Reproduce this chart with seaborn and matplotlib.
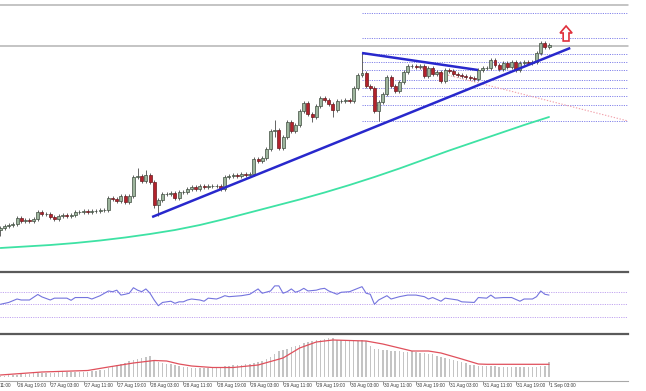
import numpy as np
import pandas as pd
import matplotlib
matplotlib.use("Agg")
import matplotlib.pyplot as plt
import matplotlib.transforms as mtransforms
from matplotlib.patches import Polygon
import seaborn as sns

# ---------------- data (hourly candles, 26 Aug 15:00 -> 1 Sep 03:00) ----------------
first_open = 40
closes = [42, 44, 45, 46, 52, 49, 50, 49, 51, 58,
          56, 56, 53, 51, 54, 55, 54, 55, 58, 58,
          59, 58, 59, 59, 60, 60, 72, 71, 69, 74,
          68, 74, 93, 94, 89, 95, 88, 65, 70, 76,
          76, 77, 72, 78, 78, 81, 83, 81, 84, 83,
          84, 84, 84, 81, 93, 94, 95, 94, 96, 95,
          96, 111, 109, 112, 121, 139, 140, 122, 133, 148,
          139, 145, 159, 167, 156, 153, 164, 172, 170, 166,
          160, 169, 169, 170, 169, 182, 195, 197, 184, 182,
          159, 168, 176, 193, 184, 179, 188, 198, 204, 204,
          203, 204, 194, 202, 196, 198, 189, 200, 199, 196,
          195, 194, 193, 192, 191, 200, 202, 202, 210, 205,
          201, 207, 203, 208, 200, 207, 208, 207, 208, 217,
          227, 223, 225]
highs = [44, 46, 47, 48, 54, 54, 52, 52, 53, 60,
         60, 58, 58, 55, 56, 57, 57, 57, 60, 60,
         61, 61, 61, 61, 62, 62, 74, 74, 73, 76,
         76, 76, 95, 102, 96, 100, 97, 90, 72, 78,
         78, 79, 79, 80, 80, 83, 85, 85, 86, 86,
         86, 86, 86, 86, 95, 96, 97, 97, 98, 98,
         98, 113, 113, 114, 123, 141, 150, 142, 135, 150,
         150, 147, 161, 169, 169, 158, 166, 174, 174, 172,
         168, 171, 171, 172, 172, 184, 197, 217, 199, 186,
         184, 170, 178, 195, 195, 186, 190, 200, 206, 206,
         206, 206, 206, 204, 204, 200, 200, 202, 202, 201,
         198, 197, 196, 195, 194, 202, 204, 204, 212, 212,
         207, 209, 209, 210, 210, 209, 210, 210, 210, 219,
         229, 229, 227]
lows = [34, 40, 42, 43, 44, 47, 47, 47, 47, 49,
        54, 54, 51, 49, 49, 52, 52, 52, 53, 56,
        56, 56, 56, 57, 57, 58, 58, 69, 67, 67,
        66, 66, 72, 91, 87, 87, 86, 62, 54, 68,
        74, 74, 70, 70, 76, 76, 79, 79, 79, 81,
        81, 82, 82, 79, 79, 91, 92, 92, 92, 93,
        93, 94, 107, 107, 110, 119, 133, 120, 120, 131,
        137, 137, 143, 157, 154, 148, 151, 162, 168, 164,
        153, 158, 167, 167, 167, 167, 180, 193, 182, 180,
        157, 149, 166, 174, 182, 177, 177, 186, 196, 202,
        201, 201, 192, 192, 194, 194, 187, 187, 197, 194,
        193, 192, 191, 190, 189, 189, 198, 200, 200, 203,
        199, 199, 201, 201, 198, 198, 205, 205, 205, 206,
        215, 221, 221]

ma_hours = [0, 6, 12, 18, 24, 30, 36, 42, 48, 54, 60, 66, 72, 78, 84, 90, 96, 102,
            108, 114, 120, 126, 132]
ma_values = [22, 23.5, 25, 27, 29.5, 32.5, 36, 40, 45, 51, 57.5, 64, 70.5, 77.5, 85, 93,
             101.5, 110.5, 119.5, 128, 136.5, 145, 153]

rsi_hours = [0, 2, 4, 5, 7, 9, 10, 12, 13, 16, 17, 18, 21, 22, 24, 26, 27, 28, 29, 30,
             31, 32, 33, 34, 35, 36, 37, 38, 39, 41, 42, 43, 44, 45, 46, 48, 49, 50, 52, 53,
             54, 55, 58, 60, 62, 63, 65, 66, 67, 68, 69, 70, 71, 72, 73, 74, 76, 77, 78, 79,
             81, 82, 84, 86, 87, 88, 89, 90, 91, 93, 94, 96, 98, 100, 102, 103, 104, 106, 107, 110,
             111, 114, 115, 117, 118, 119, 121, 123, 125, 126, 128, 129, 130, 131, 132]
rsi_values = [50, 53, 58.6, 57, 57, 66, 62, 57, 60, 60, 56.5, 61, 61, 58.6, 64, 71.7, 70.5, 73, 65, 66.3,
              68, 77, 73, 70.5, 75, 68, 57, 47.7, 53, 55, 51.6, 54, 54, 57, 58.6, 57, 55, 60, 58.6, 61,
              64, 62.4, 64, 66.3, 75, 68, 71.7, 80, 80, 68, 70.5, 75, 69.6, 72, 76, 71.7, 73, 75, 76, 71.7,
              66.3, 69.6, 70.5, 76, 78.7, 68, 66.3, 50, 57, 64, 58.6, 62.4, 65, 65, 62.4, 58.6, 61, 55, 60, 57,
              54, 53, 61, 60, 65, 60, 61, 61, 55, 58.6, 58.6, 62.4, 71.7, 66.3, 65]
rsi_levels = [70, 50, 30]

macd_hist = [1, 1.5, 2, 2, 2.5, 3, 3, 3.5,
             4, 4, 4.5, 4.5, 4.5, 4.5, 5, 5, 5, 5, 5, 5, 5,
             5.5, 6, 6.5, 7, 7.5,
             9, 11, 12, 13, 14, 16,
             17, 18, 19, 20, 21,
             17, 15, 14, 13, 13, 12,
             11, 10, 10, 9, 9, 9, 9, 9, 9, 9.5,
             10, 11, 11.5, 12, 12, 12.5, 13, 13,
             14, 15, 16, 18, 20,
             23, 26, 27, 28, 30, 31, 32,
             34, 35, 36, 37, 37, 38, 39, 39,
             37, 37, 36, 36, 36, 36, 37, 36,
             31, 28,
             28, 27, 27, 26, 26, 26,
             25, 25, 26, 25, 24, 24, 23, 23,
             21, 20, 19, 18, 17, 16, 15, 14,
             12, 12, 11, 11, 11, 11, 11, 10, 10, 10, 10, 10, 10, 10, 10, 10, 10, 11, 11,
             15]
signal_hours = [0, 10, 21, 26, 32, 37, 40, 43, 46, 51, 56, 62, 68, 72, 76, 80, 88, 92, 99, 103,
                106, 111, 115, 117, 132]
signal_values = [2, 5, 6.5, 10, 14, 16.5, 16, 13, 11, 9.5, 9.5, 12, 19, 29, 35, 37, 36, 33, 26, 26,
                 24, 18, 13, 12.7, 12.7]

tick_hours = [-4, 4, 12, 20, 28, 36, 44, 52, 60, 68, 76, 84, 92, 100, 108, 116, 124, 132]
tick_labels = ["26 Aug 11:00", "26 Aug 19:00", "27 Aug 03:00", "27 Aug 11:00", "27 Aug 19:00",
               "28 Aug 03:00", "28 Aug 11:00", "28 Aug 19:00", "29 Aug 03:00", "29 Aug 11:00",
               "29 Aug 19:00", "30 Aug 03:00", "30 Aug 11:00", "30 Aug 19:00", "31 Aug 03:00",
               "31 Aug 11:00", "31 Aug 19:00", "1 Sep 03:00"]

# analysis overlays (hour, price)
support_line = ([36.5, 137.1], [53, 222])
falling_line = ([87, 114.9], [217, 200])
red_projection = ([100, 151], [203, 149])
fib_start, fib_end = 87, 151
fib_levels = [257, 232, 216, 208, 200, 190, 182, 174, 165, 149]
grey_levels = [265, 224]
arrow_hour, arrow_top, arrow_neck, arrow_bottom = 136.1, 244, 237, 229

# ---------------- figure ----------------
sns.set_theme(style="white")
plt.rcParams['font.family'] = ['Liberation Sans', 'DejaVu Sans']

W, H = 646, 391
fig = plt.figure(figsize=(W / 100, H / 100), dpi=100)
fig.patch.set_facecolor('white')
right = 628 / W
XLIM = (-0.096, 151.0)

ax = fig.add_axes([0, 1 - 272 / H, right, 268 / H])
ax_rsi = fig.add_axes([0, 1 - 334 / H, right, 62 / H])
ax_macd = fig.add_axes([0, 1 - 380.5 / H, right, 46.5 / H])

for a in (ax, ax_rsi, ax_macd):
    a.set_xlim(*XLIM)
    a.set_facecolor('white')
    for s in a.spines.values():
        s.set_visible(False)
    a.set_yticks([])
    a.tick_params(left=False, labelleft=False)

# ---- main price panel ----
ax.set_ylim(-2, 266)
ax.set_xticks([])
hours = np.arange(len(closes))
o = np.array([first_open] + closes[:-1], dtype=float)
c = np.array(closes, dtype=float)
hi = np.array(highs, dtype=float)
lo = np.array(lows, dtype=float)

for lvl in grey_levels:
    ax.axhline(lvl, color='#b4b4b4', lw=1.1, zorder=1, clip_on=False)
ax.hlines(fib_levels, fib_start, fib_end, colors='#8585ea', lw=0.7,
          linestyles=(0, (1.2, 1.2)), zorder=1)
ax.plot(red_projection[0], red_projection[1], color='#f2a0aa', lw=0.8,
        linestyle=(0, (1.2, 1.5)), zorder=1)

ma_df = pd.DataFrame({'hour': ma_hours, 'ma': ma_values})
sns.lineplot(data=ma_df, x='hour', y='ma', ax=ax, color='#3ee2a4', lw=1.3, zorder=2)

ax.vlines(hours, lo, hi, color='#4a4a4a', lw=0.6, zorder=3)
body_lo = np.minimum(o, c)
body_h = np.abs(c - o)
min_h = 0.8
adj_lo = np.where(body_h < min_h, body_lo - (min_h - body_h) / 2, body_lo)
adj_h = np.maximum(body_h, min_h)
up = c >= o
ax.bar(hours[up], adj_h[up], bottom=adj_lo[up], width=0.72, color='#9db59d',
       edgecolor='#3f4d3f', lw=0.5, zorder=4)
ax.bar(hours[~up], adj_h[~up], bottom=adj_lo[~up], width=0.72, color='#b3222c',
       edgecolor='#6a1a1e', lw=0.5, zorder=4)

ax.plot(support_line[0], support_line[1], color='#2828cc', lw=1.8, zorder=5,
        solid_capstyle='butt')
ax.plot(falling_line[0], falling_line[1], color='#2828cc', lw=1.8, zorder=5,
        solid_capstyle='butt')

hw, sw = 1.45, 0.7
arrow_pts = [(arrow_hour, arrow_top), (arrow_hour + hw, arrow_neck), (arrow_hour + sw, arrow_neck),
             (arrow_hour + sw, arrow_bottom), (arrow_hour - sw, arrow_bottom),
             (arrow_hour - sw, arrow_neck), (arrow_hour - hw, arrow_neck)]
ax.add_patch(Polygon(arrow_pts, closed=True, facecolor='white', edgecolor='#e0303c',
                     lw=1.2, zorder=6))
ax.set_xlabel('')
ax.set_ylabel('')

# ---- RSI panel ----
ax_rsi.set_ylim(1.6, 102.6)
ax_rsi.set_xticks([])
ax_rsi.spines['top'].set_visible(True)
ax_rsi.spines['top'].set_color('#5a5a5a')
ax_rsi.spines['top'].set_linewidth(1.6)
ax_rsi.hlines(rsi_levels, XLIM[0], XLIM[1], colors='#c2a6f0', lw=0.7,
              linestyles=(0, (1.2, 1.2)))
rsi_df = pd.DataFrame({'hour': rsi_hours, 'rsi': rsi_values})
sns.lineplot(data=rsi_df, x='hour', y='rsi', ax=ax_rsi, color='#7474de', lw=0.8)
ax_rsi.set_xlabel('')
ax_rsi.set_ylabel('')

# ---- MACD panel ----
ax_macd.set_ylim(-3.5, 43)
ax_macd.spines['top'].set_visible(True)
ax_macd.spines['top'].set_color('#5a5a5a')
ax_macd.spines['top'].set_linewidth(1.6)
ax_macd.spines['bottom'].set_visible(True)
ax_macd.spines['bottom'].set_color('#a8a8a8')
ax_macd.spines['bottom'].set_linewidth(0.8)
ax_macd.bar(hours, macd_hist, width=0.36, color='#c4c4c4', lw=0, zorder=2)
sig_df = pd.DataFrame({'hour': signal_hours, 'signal': signal_values})
sns.lineplot(data=sig_df, x='hour', y='signal', ax=ax_macd, color='#e0505c', lw=0.9, zorder=3)
ax_macd.set_xlabel('')
ax_macd.set_ylabel('')

in_range = [t for t in tick_hours if XLIM[0] <= t <= XLIM[1]]
ax_macd.set_xticks(in_range)
ax_macd.set_xticklabels([''] * len(in_range))
ax_macd.tick_params(axis='x', bottom=True, direction='out', length=3, width=0.6,
                    color='#808080', pad=0)
trans = mtransforms.blended_transform_factory(ax_macd.transData, ax_macd.transAxes)
for t, lab in zip(tick_hours, tick_labels):
    if t < XLIM[0]:
        # label whose start lies left of the chart: only its time part shows
        ax_macd.text(0.0, -0.1, lab.split()[-1], transform=ax_macd.transAxes, ha='left',
                     va='center', fontsize=3.4, color='#3a3a3a')
    else:
        ax_macd.text(t + 0.25, -0.1, lab, transform=trans, ha='left', va='center',
                     fontsize=3.4, color='#3a3a3a', clip_on=False)

fig.savefig('out.png', dpi=100, facecolor='white')
